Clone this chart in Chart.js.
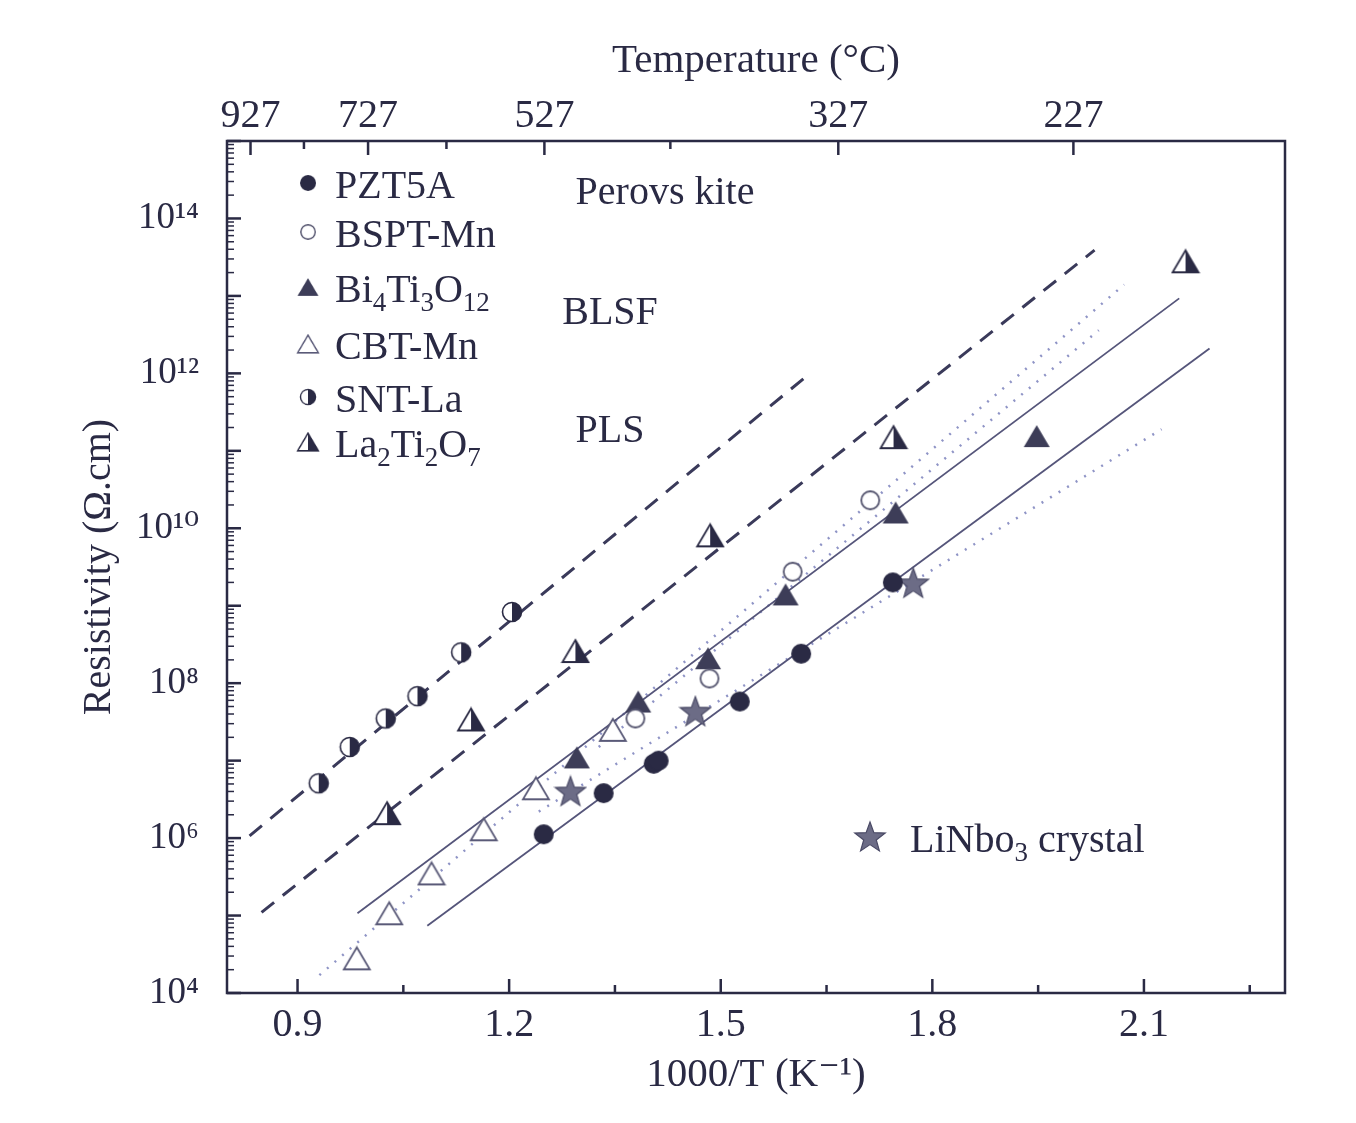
<!DOCTYPE html>
<html lang="en">
<head>
<meta charset="UTF-8">
<title>Resistivity vs 1000/T</title>
<script src="https://cdn.jsdelivr.net/npm/chart.js"></script>
<style>
  body { margin: 0; background: #fff; }
</style>
</head>
<body>
<canvas id="resChart" width="1356" height="1123"></canvas>
<script>
// x = 1000/T (K^-1), y = resistivity (ohm.cm)
const pztX = [1.249, 1.334, 1.405, 1.412, 1.527, 1.614, 1.744];
const pztY = [1.12e6, 3.8e6, 9.1e6, 1.0e7, 5.8e7, 2.4e8, 2.0e9];
const bsptX = [1.379, 1.484, 1.602, 1.712];
const bsptY = [3.5e7, 1.15e8, 2.75e9, 2.3e10];
const bitX = [1.296, 1.383, 1.482, 1.592, 1.748, 1.948];
const bitY = [1.1e7, 5.8e7, 2.1e8, 1.4e9, 1.6e10, 1.55e11];
const cbtX = [0.984, 1.030, 1.090, 1.164, 1.238, 1.347];
const cbtY = [2.8e4, 1.07e5, 3.5e5, 1.3e6, 4.4e6, 2.5e7];
const sntX = [0.930, 0.974, 1.025, 1.070, 1.132, 1.204];
const sntY = [5.1e6, 1.5e7, 3.5e7, 6.8e7, 2.5e8, 8.3e8];
const ltoX = [1.027, 1.146, 1.294, 1.485, 1.745, 2.159];
const ltoY = [2.1e6, 3.4e7, 2.6e8, 8.1e9, 1.5e11, 2.8e13];
const lnoX = [1.287, 1.464, 1.773];
const lnoY = [4.0e6, 4.3e7, 1.95e9];

// fitted lines (end points)
const sntFitX = [0.832, 1.621];
const sntFitY = [1.07e6, 9.1e11];
const ltoFitX = [0.849, 2.030];
const ltoFitY = [1.1e5, 3.9e13];
const bitFitX = [0.985, 2.150];
const bitFitY = [1.07e5, 9.3e12];
const pztFitX = [1.084, 2.193];
const pztFitY = [7.4e4, 2.1e12];
const cbtFitX = [0.931, 2.072];
const cbtFitY = [1.7e4, 1.4e13];
const bsptFitX = [1.327, 2.036];
const bsptFitY = [1.5e7, 3.6e12];
const lnoFitX = [1.242, 2.125];
const lnoFitY = [2.2e6, 1.9e11];

// axis ticks
const xTicks = [0.9, 1.05, 1.2, 1.35, 1.5, 1.65, 1.8, 1.95, 2.1, 2.25];
const xLabelled = [0.9, 1.2, 1.5, 1.8, 2.1];
const tempTicks = [927, 827, 727, 627, 527, 427, 327, 227];
const tempLabelled = [927, 727, 527, 327, 227];

const ink = '#2a2a44';
const font = "'Liberation Serif', 'DejaVu Serif', serif";

function pts(xs, ys) { return xs.map((x, i) => ({ x: x, y: ys[i] })); }

function makeMarker(w, h, draw) {
  const c = document.createElement('canvas');
  c.width = w; c.height = h;
  draw(c.getContext('2d'), w, h);
  return c;
}
function triPath(g, w, h) {
  g.beginPath();
  g.moveTo(w / 2, 2); g.lineTo(w - 2, h - 2); g.lineTo(2, h - 2); g.closePath();
}
const mFilledCircle = makeMarker(24, 24, (g) => {
  g.fillStyle = ink; g.beginPath(); g.arc(12, 12, 10, 0, Math.PI * 2); g.fill();
});
const mOpenCircle = makeMarker(24, 24, (g) => {
  g.fillStyle = '#fff'; g.strokeStyle = '#55556f'; g.lineWidth = 1.8;
  g.beginPath(); g.arc(12, 12, 9, 0, Math.PI * 2); g.fill(); g.stroke();
});
const mHalfCircle = makeMarker(24, 24, (g) => {
  g.fillStyle = '#fff'; g.beginPath(); g.arc(12, 12, 9.5, 0, Math.PI * 2); g.fill();
  g.fillStyle = ink; g.beginPath(); g.moveTo(12, 12); g.arc(12, 12, 9.5, -Math.PI / 2, Math.PI / 2); g.closePath(); g.fill();
  g.strokeStyle = ink; g.lineWidth = 1.6; g.beginPath(); g.arc(12, 12, 9.5, 0, Math.PI * 2); g.stroke();
});
const mFilledTri = makeMarker(30, 26, (g, w, h) => {
  g.fillStyle = '#3d3d58'; triPath(g, w, h); g.fill();
});
const mOpenTri = makeMarker(30, 26, (g, w, h) => {
  g.fillStyle = '#fff'; g.strokeStyle = '#5a5a78'; g.lineWidth = 1.8;
  triPath(g, w, h); g.fill(); g.stroke();
});
const mHalfTri = makeMarker(30, 26, (g, w, h) => {
  g.fillStyle = '#fff'; triPath(g, w, h); g.fill();
  g.fillStyle = ink; g.beginPath();
  g.moveTo(w / 2, 2); g.lineTo(w - 2, h - 2); g.lineTo(w / 2, h - 2); g.closePath(); g.fill();
  g.strokeStyle = ink; g.lineWidth = 1.8; triPath(g, w, h); g.stroke();
});
const mStar = makeMarker(34, 34, (g) => {
  g.beginPath();
  for (let i = 0; i < 10; i++) {
    const r = i % 2 === 0 ? 16 : 6.6;
    const a = -Math.PI / 2 + i * Math.PI / 5;
    const px = 17 + r * Math.cos(a), py = 18 + r * Math.sin(a);
    if (i === 0) g.moveTo(px, py); else g.lineTo(px, py);
  }
  g.closePath();
  g.fillStyle = '#6c6c86'; g.fill();
  g.strokeStyle = '#4a4a66'; g.lineWidth = 1.2; g.stroke();
});

function pointSet(label, xs, ys, marker) {
  return { label: label, data: pts(xs, ys), pointStyle: marker, pointRadius: 12,
           showLine: false, order: 1 };
}
function fitLine(xs, ys, color, width, dash) {
  return { label: 'fit', data: pts(xs, ys), showLine: true, pointRadius: 0,
           borderColor: color, borderWidth: width, borderDash: dash, order: 2 };
}

const sup = { '0': '\u2070', '1': '\u00b9', '2': '\u00b2', '3': '\u00b3', '4': '\u2074',
              '5': '\u2075', '6': '\u2076', '7': '\u2077', '8': '\u2078', '9': '\u2079' };

// inward ticks, frame and in-plot texts
const decorPlugin = {
  id: 'decor',
  afterDraw(chart) {
    const { ctx, chartArea: a, scales } = chart;
    ctx.save();
    ctx.strokeStyle = ink;
    ctx.lineWidth = 2.5;
    // frame
    ctx.strokeRect(a.left, a.top, a.right - a.left, a.bottom - a.top);
    // bottom ticks
    scales.x.ticks.forEach((t) => {
      const px = scales.x.getPixelForValue(t.value);
      const len = xLabelled.some((v) => Math.abs(v - t.value) < 1e-6) ? 14 : 8;
      ctx.beginPath(); ctx.moveTo(px, a.bottom); ctx.lineTo(px, a.bottom - len); ctx.stroke();
    });
    // top ticks
    scales.x2.ticks.forEach((t) => {
      const px = scales.x2.getPixelForValue(t.value);
      const tc = Math.round(1000 / t.value - 273);
      const len = tempLabelled.includes(tc) ? 14 : 8;
      ctx.beginPath(); ctx.moveTo(px, a.top); ctx.lineTo(px, a.top + len); ctx.stroke();
    });
    // left ticks
    scales.y.ticks.forEach((t) => {
      const py = scales.y.getPixelForValue(t.value);
      const e = Math.log10(t.value);
      const major = Math.abs(e - Math.round(e)) < 1e-6;
      const len = major ? 14 : 7;
      ctx.lineWidth = major ? 2.5 : 1.5;
      ctx.beginPath(); ctx.moveTo(a.left, py); ctx.lineTo(a.left + len, py); ctx.stroke();
    });

    // legend block
    const rows = [
      { m: mFilledCircle, parts: [['PZT5A', 0]] },
      { m: mOpenCircle, parts: [['BSPT-Mn', 0]] },
      { m: mFilledTri, parts: [['Bi', 0], ['4', 1], ['Ti', 0], ['3', 1], ['O', 0], ['12', 1]] },
      { m: mOpenTri, parts: [['CBT-Mn', 0]] },
      { m: mHalfCircle, parts: [['SNT-La', 0]] },
      { m: mHalfTri, parts: [['La', 0], ['2', 1], ['Ti', 0], ['2', 1], ['O', 0], ['7', 1]] }
    ];
    const rowY = [44, 93, 148, 205, 258, 303];
    rows.forEach((r, i) => {
      const cy = a.top + rowY[i];
      const s = 0.8;
      ctx.drawImage(r.m, a.left + 81 - r.m.width * s / 2, cy - 2 - r.m.height * s / 2, r.m.width * s, r.m.height * s);
      drawRich(ctx, r.parts, a.left + 108, cy + 13, 40);
    });

    // class labels
    ctx.fillStyle = ink;
    ctx.font = '40px ' + font;
    ctx.textAlign = 'center';
    ctx.fillText('Perovs kite', a.left + 438, a.top + 63);
    ctx.fillText('BLSF', a.left + 383, a.top + 183);
    ctx.fillText('PLS', a.left + 383, a.top + 301);

    // LiNbO3 legend
    ctx.drawImage(mStar, a.left + 643 - 17, a.top + 697 - 18);
    drawRich(ctx, [['LiNbo', 0], ['3', 1], [' crystal', 0]], a.left + 683, a.top + 711, 40);
    ctx.restore();
  }
};

function drawRich(ctx, parts, x, y, size) {
  ctx.fillStyle = ink;
  ctx.textAlign = 'left';
  let cx = x;
  parts.forEach(([txt, sub]) => {
    const fs = sub ? Math.round(size * 0.68) : size;
    ctx.font = fs + 'px ' + font;
    ctx.fillText(txt, cx, sub ? y + size * 0.22 : y);
    cx += ctx.measureText(txt).width;
  });
}

const ctx = document.getElementById('resChart').getContext('2d');
const chart = new Chart(ctx, {
  type: 'scatter',
  data: {
    datasets: [
      fitLine(sntFitX, sntFitY, '#3a3a5a', 3, [16, 11]),
      fitLine(ltoFitX, ltoFitY, '#3a3a5a', 3, [16, 11]),
      fitLine(bitFitX, bitFitY, '#55557a', 1.8, []),
      fitLine(pztFitX, pztFitY, '#55557a', 1.8, []),
      fitLine(cbtFitX, cbtFitY, '#8f94c6', 2.5, [2, 8]),
      fitLine(bsptFitX, bsptFitY, '#8f94c6', 2.5, [2, 8]),
      fitLine(lnoFitX, lnoFitY, '#8f94c6', 2.5, [2, 8]),
      pointSet('PZT5A', pztX, pztY, mFilledCircle),
      pointSet('BSPT-Mn', bsptX, bsptY, mOpenCircle),
      pointSet('Bi4Ti3O12', bitX, bitY, mFilledTri),
      pointSet('CBT-Mn', cbtX, cbtY, mOpenTri),
      pointSet('SNT-La', sntX, sntY, mHalfCircle),
      pointSet('La2Ti2O7', ltoX, ltoY, mHalfTri),
      pointSet('LiNbO3 crystal', lnoX, lnoY, mStar)
    ]
  },
  options: {
    responsive: false,
    animation: false,
    layout: { padding: { left: 0, right: 71, top: 0, bottom: 0 } },
    plugins: {
      legend: { display: false },
      tooltip: { enabled: false }
    },
    scales: {
      x: {
        type: 'linear', position: 'bottom', min: 0.8, max: 2.3,
        afterBuildTicks: (s) => { s.ticks = xTicks.map((v) => ({ value: v })); },
        afterFit: (s) => { s.height = 130; },
        grid: { display: false },
        border: { display: false },
        ticks: {
          autoSkip: false, maxRotation: 0, padding: 0, color: ink,
          font: { family: font, size: 40 },
          callback: (v) => xLabelled.some((l) => Math.abs(l - v) < 1e-6) ? v.toFixed(1) : ''
        },
        title: { display: true, text: '1000/T (K\u207b\u00b9)', color: ink,
                 font: { family: font, size: 41 }, padding: { top: 0, bottom: 23 } }
      },
      x2: {
        type: 'linear', position: 'top', min: 0.8, max: 2.3,
        afterBuildTicks: (s) => { s.ticks = tempTicks.map((t) => ({ value: 1000 / (t + 273) })); },
        afterFit: (s) => { s.height = 141; },
        grid: { display: false },
        border: { display: false },
        ticks: {
          autoSkip: false, maxRotation: 0, padding: -7, color: ink,
          font: { family: font, size: 40 },
          callback: (v) => {
            const t = Math.round(1000 / v - 273);
            return tempLabelled.includes(t) ? String(t) : '';
          }
        },
        title: { display: true, text: 'Temperature (\u00b0C)', color: ink,
                 font: { family: font, size: 41 }, padding: { top: 37, bottom: 0 } }
      },
      y: {
        type: 'logarithmic', min: 1e4, max: 1e15,
        afterBuildTicks: (s) => {
          const t = [];
          for (let e = 4; e <= 15; e++) {
            for (let m = 1; m <= 9; m++) {
              const v = m * Math.pow(10, e);
              if (v <= 1e15) t.push({ value: v });
            }
          }
          s.ticks = t;
        },
        afterFit: (s) => { s.width = 227; },
        grid: { display: false },
        border: { display: false },
        ticks: {
          autoSkip: false, padding: 20, color: ink,
          font: { family: font, size: 37 },
          callback: (v) => {
            const e = Math.log10(v);
            if (Math.abs(e - Math.round(e)) > 1e-6) return '';
            const n = Math.round(e);
            if (n % 2 !== 0 || n > 14) return '';
            return '10' + String(n).split('').map((d) => sup[d]).join('');
          }
        },
        title: { display: true, text: 'Resistivity (\u03a9.cm)', color: ink,
                 font: { family: font, size: 40 }, padding: { top: 75, bottom: 0 } }
      }
    }
  },
  plugins: [decorPlugin]
});
</script>
</body>
</html>
